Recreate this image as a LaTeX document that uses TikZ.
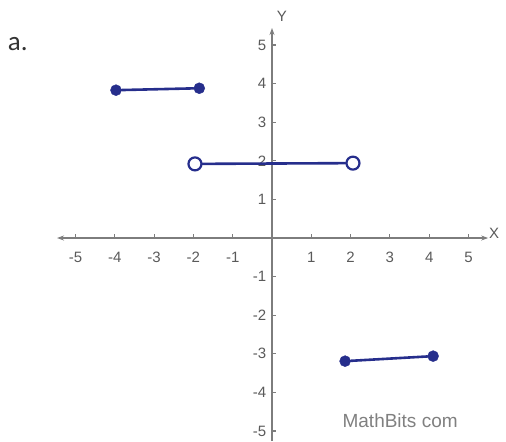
\documentclass[tikz,border=0pt]{standalone}
\usepackage{fontspec}
\setmainfont{Liberation Sans}
\newfontfamily\partfont{Carlito}
\usetikzlibrary{arrows.meta}
\definecolor{penblue}{RGB}{38,46,140}
\definecolor{axisgray}{RGB}{125,125,125}
\definecolor{textgray}{RGB}{90,90,90}

\begin{document}
\begin{tikzpicture}[
  x=39.3pt, y=38.6pt,
  every node/.style={font=\fontsize{15}{15}\selectfont,text=textgray},
  axisline/.style={draw=axisgray,line width=1.1pt},
  dotfill/.style={circle,fill=penblue,draw=penblue,minimum size=11pt,inner sep=0pt},
  dotopen/.style={circle,fill=white,draw=penblue,line width=2.2pt,minimum size=13pt,inner sep=0pt},
  seg/.style={draw=penblue,line width=2.6pt,line cap=round},
]
  \useasboundingbox (-6.921,-5.259) rectangle (5.954,6.166);

  % Part label
  \node[font=\partfont\fontsize{27}{27}\selectfont,text=black!80] (parta) at (-6.47,5.02) {a.};

  % Axes
  \coordinate (xleft) at (-5.47,0);
  \coordinate (xright) at (5.50,0);
  \coordinate (ybottom) at (0,-5.26);
  \coordinate (ytop) at (0,5.44);
  \draw[axisline,{Stealth[length=7pt,width=5pt]}-{Stealth[length=7pt,width=5pt]}] (xleft) -- (xright);
  \draw[axisline,-{Stealth[length=7pt,width=5pt]}] (ybottom) -- (ytop);
  \node (xname) at (5.65,0.13) {X};
  \node (yname) at (0.25,5.73) {Y};

  % Ticks and numbers
  \foreach \t in {-5,-4,-3,-2,-1,1,2,3,4,5} {
    \draw[axisline] (\t,0) -- (\t,0.1);
    \draw[axisline] (0,\t) -- (0.1,\t);
    \node[anchor=north] (xnum\t) at (\t,-0.27) {\t};
    \node[anchor=east] (ynum\t) at (-0.06,\t) {\t};
  }

  % Segments
  \node[dotfill] (a1) at (-3.97,3.83) {};
  \node[dotfill] (a2) at (-1.85,3.88) {};
  \draw[seg] (a1) -- (a2);

  \node[dotopen] (b1) at (-1.96,1.92) {};
  \node[dotopen] (b2) at (2.06,1.94) {};
  \draw[seg] (b1) -- (b2);

  \node[dotfill] (c1) at (1.86,-3.19) {};
  \node[dotfill] (c2) at (4.10,-3.06) {};
  \draw[seg] (c1) -- (c2);

  % Credit
  \node[font=\fontsize{19}{19}\selectfont,text=black!50] (credit) at (3.26,-4.74) {MathBits com};
\end{tikzpicture}
\end{document}
